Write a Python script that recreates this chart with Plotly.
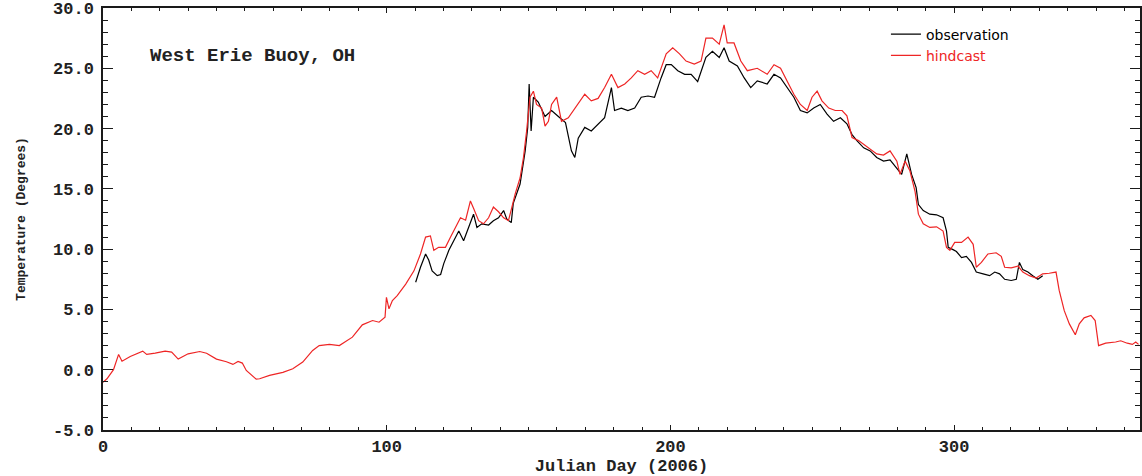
import plotly.graph_objects as go

# ---------------- data ----------------
hind_day = [0, 1.4, 3.7, 5.5, 6.7, 9.6, 14, 15.4, 18.4, 21.9, 24.2, 26.5, 30, 34.1, 36.5, 40,
            43.5, 45.8, 47.6, 49.1, 50.5, 54, 55.2, 58.7, 63.4, 66.9, 70.4, 73.9, 76.2, 79.8,
            83.3, 87.9, 91.4, 95, 97.3, 99.4, 99.9, 100.8, 102, 103.7, 106.7, 109.6, 111.9,
            113.7, 115.4, 116.6, 118.3, 120.7, 122.5, 124.2, 126, 127.8, 129.5, 130.6, 132.4,
            134.1, 135.9, 137.6, 139.4, 141.2, 142.9, 144.1, 145.3, 147, 148.2, 149.3, 150.5,
            151.7, 152.8, 154.6, 155.8, 157, 158.1, 159.9, 161.6, 164, 165.7, 168.1, 169.8,
            172.1, 174.5, 176.8, 179.2, 181.5, 183.9, 186.2, 188.5, 190.9, 193.2, 195.5, 198.5,
            200.8, 203.2, 205.5, 208.4, 210.8, 212.5, 214.8, 217.2, 218.9, 220, 222.4, 224.8,
            227.1, 230.6, 234.1, 236.5, 238.8, 241.2, 243.5, 245.8, 248.2, 249.9, 251.7, 253.4,
            255.8, 258.1, 260.5, 262.2, 264, 266.3, 268.1, 270.4, 272.7, 275.1, 277.4, 279.8,
            280.9, 282.7, 284.4, 286.2, 287.4, 289.1, 291.4, 293.8, 296.1, 297.3, 298.5, 300.2,
            302.6, 304.9, 306.7, 307.8, 309.6, 311.9, 314.8, 316.6, 317.8, 320.1, 322.5, 324.2,
            326.5, 328.9, 331.2, 333.5, 335.9, 337, 338.8, 340.6, 342.7, 344.1, 345.8, 348.2,
            349.7, 350.9, 353.4, 356.9, 358.7, 361, 362.8, 364, 365]
hind_temp = [-1.05, -0.75, 0.0, 1.27, 0.71, 1.1, 1.54, 1.27, 1.37, 1.54, 1.46, 0.88, 1.32, 1.51,
             1.37, 0.88, 0.66, 0.44, 0.69, 0.55, -0.06, -0.78, -0.75, -0.47, -0.22, 0.08, 0.63,
             1.6, 2.0, 2.1, 2.0, 2.7, 3.72, 4.08, 3.94, 4.35, 6.0, 5.05, 5.74, 6.15, 7.1, 8.2,
             9.6, 11.0, 11.1, 9.9, 10.15, 10.15, 11.0, 11.8, 12.6, 12.4, 14.0, 13.4, 12.36, 12.1,
             12.6, 13.5, 13.1, 12.6, 12.36, 13.46, 14.6, 15.9, 17.6, 19.8, 22.6, 23.1, 22.0,
             21.7, 20.2, 20.6, 22.0, 22.6, 20.6, 20.9, 21.5, 22.3, 22.85, 22.3, 22.5, 23.4, 24.5,
             23.4, 23.7, 24.2, 24.8, 24.5, 24.8, 24.2, 26.2, 26.7, 26.2, 25.6, 25.35, 25.6, 27.5,
             27.5, 27.0, 28.6, 27.1, 27.1, 25.6, 24.8, 25.0, 24.5, 25.3, 25.0, 23.9, 22.85, 22.0,
             21.5, 22.6, 23.1, 22.3, 21.7, 21.5, 21.5, 21.05, 19.26, 19.0, 18.7, 18.3, 17.9,
             17.8, 18.15, 17.3, 16.2, 17.3, 16.5, 14.8, 12.9, 12.1, 11.8, 11.85, 11.5, 10.15,
             9.9, 10.56, 10.56, 11.0, 10.4, 8.5, 8.9, 9.6, 9.7, 9.4, 8.5, 8.45, 8.6, 8.1, 7.8,
             7.6, 7.95, 8.0, 8.1, 6.6, 4.9, 3.8, 2.9, 3.8, 4.3, 4.5, 4.08, 2.0, 2.2, 2.3, 2.4,
             2.2, 2.1, 2.3, 2.1]

obs_day = [110.2, 111.9, 113.7, 114.8, 116, 117.8, 119, 120.1, 121.9, 123.6, 125.4, 127.1,
           128.9, 130.6, 131.8, 133.5, 135.9, 137.6, 139.4, 141.2, 142.3, 143.9, 144.6, 145.8,
           147, 148.8, 149.7, 150.2, 150.9, 151.7, 153.4, 155.8, 158.1, 160.5, 163, 165.1,
           166.3, 167.5, 169.8, 172.1, 174.5, 176.8, 179.2, 180.3, 182.7, 185, 187.4, 189.7,
           192.1, 194.4, 196.7, 198.5, 200.3, 202.6, 205, 207.3, 209.6, 210.8, 212.5, 214.8,
           217.2, 218.9, 220.7, 223.6, 226, 228.3, 230.6, 234.1, 236.5, 238.8, 241.2, 243.5,
           245.8, 248.2, 250.5, 252.8, 255.2, 257.5, 259.9, 262.2, 264, 265.7, 268.1, 270.4,
           272.7, 275.1, 277.4, 279.8, 281.5, 283.3, 285, 286.6, 287.4, 289.1, 291.4, 293.8,
           296.1, 297.3, 297.9, 299.6, 300.8, 302.6, 304.3, 306.1, 307.8, 310.2, 312.5, 314.3,
           316, 317.8, 320.1, 321.9, 322.5, 323, 324.2, 326, 327.7, 329.5, 331.2]
obs_temp = [7.25, 8.5, 9.6, 9.1, 8.2, 7.8, 7.9, 8.8, 9.9, 10.7, 11.5, 10.7, 11.8, 12.9, 11.8,
            12.1, 12.0, 12.36, 12.6, 13.2, 12.5, 12.2, 13.8, 14.6, 15.4, 18.15, 20.1, 23.7, 19.8,
            22.6, 22.2, 21.0, 21.5, 21.0, 20.5, 18.15, 17.6, 19.2, 20.1, 19.8, 20.4, 20.9, 23.4,
            21.5, 21.7, 21.5, 21.7, 22.6, 22.7, 22.6, 24.2, 25.3, 25.3, 24.8, 24.5, 24.5, 23.9,
            24.8, 25.9, 26.4, 25.9, 26.7, 25.6, 25.2, 24.2, 23.4, 23.95, 23.7, 24.5, 24.2, 23.4,
            22.6, 21.5, 21.3, 21.7, 22.0, 21.2, 20.6, 20.9, 20.4, 19.5, 19.0, 18.4, 18.15, 17.6,
            17.3, 17.4, 16.7, 16.2, 17.9, 16.2, 15.1, 13.7, 13.2, 12.9, 12.85, 12.6, 11.5, 10.15,
            9.96, 9.8, 9.3, 9.4, 8.9, 8.1, 7.95, 7.8, 8.1, 7.95, 7.5, 7.4, 7.5, 8.5, 8.9, 8.3,
            8.1, 7.8, 7.5, 7.8]

x_tick_vals = [0, 100, 200, 300]
x_tick_text = ["0", "100", "200", "300"]
y_tick_vals = [-5, 0, 5, 10, 15, 20, 25, 30]
y_tick_text = ["-5.0", "0.0", "5.0", "10.0", "15.0", "20.0", "25.0", "30.0"]

RED = "#ee2525"
AXIS = "#1a1a1a"
MONO = "Liberation Mono"

fig = go.Figure()
fig.add_trace(go.Scatter(x=obs_day, y=obs_temp, mode="lines", name="observation",
                         line=dict(color="black", width=1.2)))
fig.add_trace(go.Scatter(x=hind_day, y=hind_temp, mode="lines",
                         name='<span style="color:%s">hindcast</span>' % RED,
                         line=dict(color=RED, width=1.2)))

common = dict(showline=True, linecolor=AXIS, linewidth=1.5, mirror="allticks",
              ticks="inside", tickcolor=AXIS, tickwidth=1.2, showgrid=False,
              zeroline=False, ticklabeloverflow="allow",
              tickfont=dict(family=MONO, size=17, color="#222", weight="bold"))

fig.update_layout(
    width=1142, height=476,
    margin=dict(l=103, r=0, t=7, b=46),
    paper_bgcolor="white", plot_bgcolor="white",
    showlegend=True,
    legend=dict(x=0.755, y=0.975, xanchor="left", yanchor="top",
                bgcolor="rgba(0,0,0,0)", font=dict(family="DejaVu Sans", size=14, color="black"),
                tracegroupgap=0),
    xaxis=dict(range=[0, 365.5], tickvals=x_tick_vals, ticktext=x_tick_text, ticklen=5,
               minor=dict(dtick=10, tick0=0, ticklen=3, ticks="inside", tickcolor=AXIS),
               title=dict(text="Julian Day (2006)", standoff=3,
                          font=dict(family=MONO, size=17, color="#222", weight="bold")),
               **common),
    yaxis=dict(range=[-5, 30], tickvals=y_tick_vals, ticktext=y_tick_text, ticklen=10,
               minor=dict(dtick=1, tick0=0, ticklen=5, ticks="inside", tickcolor=AXIS),
               ticklabelstandoff=4,
               title=dict(text="Temperature (Degrees)", standoff=24,
                          font=dict(family=MONO, size=13, color="#222", weight="bold")),
               **common),
    annotations=[dict(text="West Erie Buoy, OH", xref="paper", yref="paper",
                      x=0.0435, y=0.887, xanchor="left", yanchor="middle", showarrow=False,
                      font=dict(family=MONO, size=19, color="#222", weight="bold"))],
)

fig.write_html("out.html")
